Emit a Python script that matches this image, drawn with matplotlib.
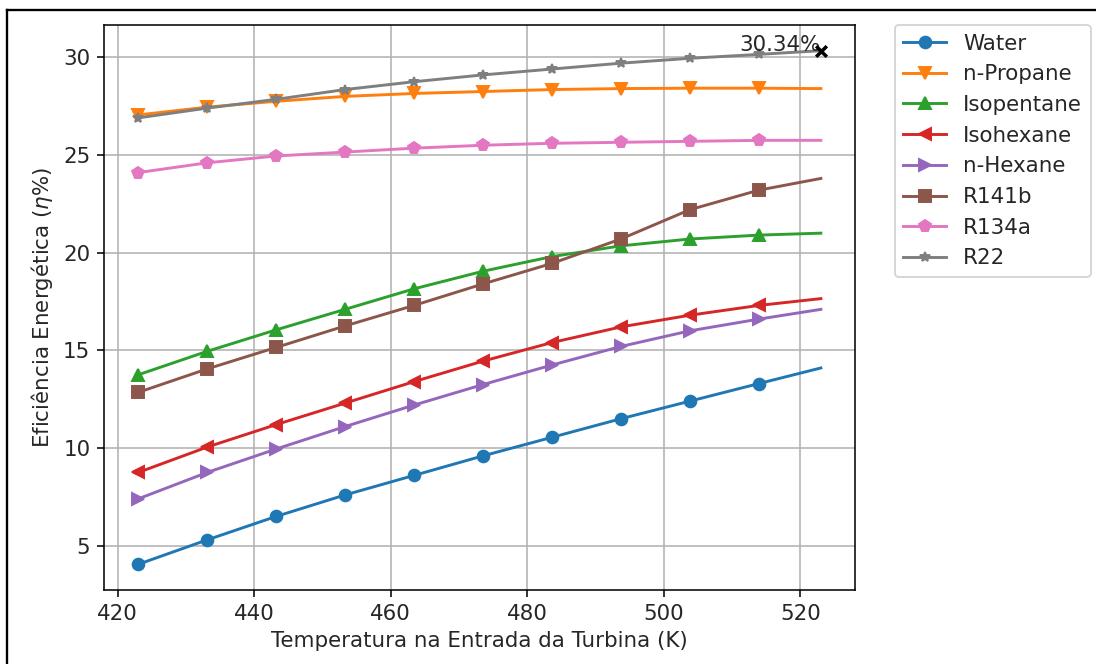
import matplotlib
matplotlib.use("Agg")
import matplotlib.pyplot as plt
from matplotlib.lines import Line2D

temps = [423.0, 433.1, 443.2, 453.3, 463.4, 473.5, 483.6, 493.7, 503.8, 513.9, 523.0]

water = [4.05, 5.3, 6.5, 7.6, 8.6, 9.6, 10.55, 11.5, 12.4, 13.3, 14.1]
n_propane = [27.05, 27.45, 27.75, 28.0, 28.15, 28.25, 28.35, 28.4, 28.42, 28.42, 28.4]
isopentane = [13.75, 14.95, 16.05, 17.1, 18.15, 19.05, 19.8, 20.35, 20.7, 20.9, 21.0]
isohexane = [8.75, 10.05, 11.2, 12.3, 13.4, 14.45, 15.4, 16.2, 16.8, 17.3, 17.65]
n_hexane = [7.4, 8.75, 9.95, 11.1, 12.2, 13.25, 14.25, 15.2, 16.0, 16.6, 17.1]
r141b = [12.85, 14.05, 15.15, 16.25, 17.3, 18.4, 19.45, 20.7, 22.2, 23.2, 23.8]
r134a = [24.1, 24.6, 24.95, 25.15, 25.35, 25.5, 25.6, 25.65, 25.7, 25.75, 25.75]
r22 = [26.9, 27.4, 27.85, 28.35, 28.75, 29.1, 29.4, 29.7, 29.95, 30.15, 30.34]

labels = ["Water", "n-Propane", "Isopentane", "Isohexane", "n-Hexane", "R141b", "R134a", "R22"]
markers = ["o", "v", "^", "<", ">", "s", "p", "*"]
series = [water, n_propane, isopentane, isohexane, n_hexane, r141b, r134a, r22]

max_label = "30.34%"

plt.rcParams["font.size"] = 11
plt.rcParams["text.color"] = "#262626"
plt.rcParams["axes.labelcolor"] = "#262626"
plt.rcParams["xtick.labelcolor"] = "#262626"
plt.rcParams["ytick.labelcolor"] = "#262626"

fig = plt.figure(figsize=(1096 / 140, 664 / 140), dpi=140)
ax = fig.add_axes([104 / 1096, 1 - 590 / 664, (855 - 104) / 1096, (590 - 25) / 664])

for lab, mk, ys in zip(labels, markers, series):
    ms = 5 if mk == "*" else 6
    ax.plot(temps, ys, marker=mk, markersize=ms, label=lab, markevery=list(range(len(temps) - 1)))

ax.scatter([temps[-1]], [r22[-1]], marker="x", color="black", s=30, linewidths=1.8, zorder=5)
ax.text(temps[-1], r22[-1], max_label, ha="right", va="baseline", fontsize=11)

ax.set_xlabel("Temperatura na Entrada da Turbina (K)")
ax.set_ylabel("Eficiência Energética ($\\eta$%)")
ax.grid(True)
ax.set_xticks([420, 440, 460, 480, 500, 520])
ax.set_yticks([5, 10, 15, 20, 25, 30])

ax.legend(loc="upper left", bbox_to_anchor=(1.053, 1.0), borderaxespad=0.0, fontsize=11)

fig.add_artist(Line2D([7 / 1096, 7 / 1096], [1 - 10 / 664, -0.1], transform=fig.transFigure, color="black", lw=1.2))
fig.add_artist(Line2D([7 / 1096, 1.1], [1 - 10 / 664, 1 - 10 / 664], transform=fig.transFigure, color="black", lw=1.2))

fig.savefig("out.png", dpi=140)
